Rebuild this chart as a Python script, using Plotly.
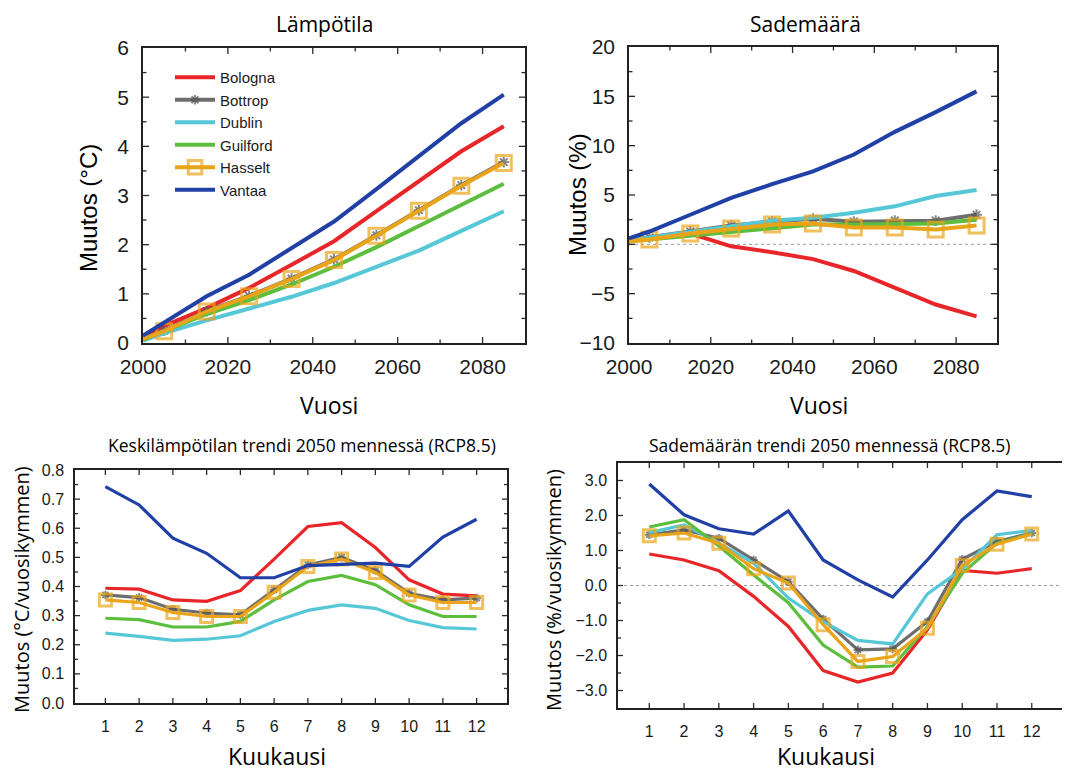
import plotly.graph_objects as go

# page body has an 8 px margin; the figure is sized so that it fills the 1070x773 window
OFF = 8
W, H = 1070 - OFF, 773 - OFF

# ---------------- data ----------------
cities = ["Bologna", "Bottrop", "Dublin", "Guilford", "Hasselt", "Vantaa"]
colors = {"Bologna": "#E8262A", "Bottrop": "#6E6E6E", "Dublin": "#55C7D7",
          "Guilford": "#5CBE3C", "Hasselt": "#E9A41A", "Vantaa": "#2140A6"}

years = [2000, 2005, 2015, 2025, 2035, 2045, 2055, 2065, 2075, 2085]
months = [1, 2, 3, 4, 5, 6, 7, 8, 9, 10, 11, 12]

# Temperature change (°C)
temp_bologna = [0.10, 0.35, 0.71, 1.12, 1.59, 2.07, 2.68, 3.29, 3.90, 4.41]
temp_bottrop = [0.08, 0.25, 0.65, 0.96, 1.31, 1.70, 2.19, 2.70, 3.21, 3.68]
temp_dublin = [0.05, 0.20, 0.46, 0.69, 0.94, 1.22, 1.55, 1.88, 2.28, 2.68]
temp_guilford = [0.07, 0.24, 0.59, 0.87, 1.19, 1.55, 1.95, 2.38, 2.82, 3.24]
temp_hasselt = [0.08, 0.24, 0.64, 0.95, 1.30, 1.69, 2.18, 2.69, 3.20, 3.66]
temp_vantaa = [0.15, 0.41, 0.95, 1.39, 1.93, 2.47, 3.13, 3.80, 4.47, 5.05]

# Precipitation change (%)
prec_bologna = [0.4, 0.7, 1.1, -0.2, -0.8, -1.5, -2.7, -4.4, -6.1, -7.3]
prec_bottrop = [0.4, 0.7, 1.3, 1.9, 2.3, 2.6, 2.3, 2.4, 2.4, 3.0]
prec_dublin = [0.4, 0.7, 1.3, 1.9, 2.4, 2.7, 3.2, 3.85, 4.9, 5.5]
prec_guilford = [0.3, 0.5, 0.9, 1.3, 1.7, 2.0, 2.0, 2.1, 2.1, 2.5]
prec_hasselt = [0.3, 0.5, 1.1, 1.6, 2.0, 2.1, 1.7, 1.7, 1.5, 1.9]
prec_vantaa = [0.6, 1.3, 3.0, 4.7, 6.1, 7.4, 9.1, 11.4, 13.4, 15.5]

# Monthly mean temperature trend (°C/decade)
mt_bologna = [0.394, 0.391, 0.354, 0.349, 0.386, 0.494, 0.606, 0.619, 0.534, 0.423, 0.374, 0.368]
mt_bottrop = [0.371, 0.362, 0.322, 0.309, 0.303, 0.389, 0.474, 0.500, 0.455, 0.377, 0.354, 0.360]
mt_dublin = [0.240, 0.229, 0.215, 0.219, 0.231, 0.280, 0.318, 0.337, 0.325, 0.283, 0.259, 0.254]
mt_guilford = [0.291, 0.286, 0.261, 0.261, 0.280, 0.354, 0.417, 0.438, 0.406, 0.337, 0.297, 0.297]
mt_hasselt = [0.354, 0.345, 0.311, 0.297, 0.297, 0.380, 0.469, 0.494, 0.448, 0.371, 0.345, 0.345]
mt_vantaa = [0.743, 0.680, 0.566, 0.514, 0.430, 0.430, 0.472, 0.477, 0.480, 0.469, 0.570, 0.631]

# Monthly precipitation trend (%/decade)
mp_bologna = [0.90, 0.73, 0.42, -0.31, -1.17, -2.43, -2.76, -2.50, -1.27, 0.43, 0.35, 0.48]
mp_bottrop = [1.45, 1.59, 1.35, 0.73, 0.11, -0.96, -1.84, -1.81, -1.03, 0.75, 1.26, 1.50]
mp_dublin = [1.51, 1.73, 1.21, 0.64, -0.36, -1.03, -1.57, -1.67, -0.24, 0.47, 1.45, 1.57]
mp_guilford = [1.67, 1.88, 1.13, 0.30, -0.49, -1.70, -2.33, -2.30, -1.17, 0.35, 1.21, 1.47]
mp_hasselt = [1.42, 1.50, 1.21, 0.48, 0.07, -1.12, -2.17, -2.03, -1.22, 0.57, 1.18, 1.47]
mp_vantaa = [2.90, 2.02, 1.62, 1.47, 2.13, 0.73, 0.16, -0.33, 0.73, 1.88, 2.70, 2.54]

# tick positions (major, minor) of each panel
year_ticks_major = [2020, 2040, 2060, 2080]
year_ticks_minor = [2010, 2030, 2050, 2070]
temp_ticks_major = [1, 2, 3, 4, 5]
temp_ticks_minor = [0.5, 1.5, 2.5, 3.5, 4.5, 5.5]
prec_ticks_major = [-5, 0, 5, 10, 15]
prec_ticks_minor = [-7.5, -2.5, 2.5, 7.5, 12.5, 17.5]
mtemp_ticks_major = [0.1, 0.2, 0.3, 0.4, 0.5, 0.6, 0.7]
mtemp_ticks_minor = [0.05, 0.15, 0.25, 0.35, 0.45, 0.55, 0.65, 0.75]
mprec_ticks_major = [-3, -2, -1, 0, 1, 2, 3]
mprec_ticks_minor = [-2.5, -1.5, -0.5, 0.5, 1.5, 2.5]

temp = dict(zip(cities, [temp_bologna, temp_bottrop, temp_dublin, temp_guilford, temp_hasselt, temp_vantaa]))
prec = dict(zip(cities, [prec_bologna, prec_bottrop, prec_dublin, prec_guilford, prec_hasselt, prec_vantaa]))
mtemp = dict(zip(cities, [mt_bologna, mt_bottrop, mt_dublin, mt_guilford, mt_hasselt, mt_vantaa]))
mprec = dict(zip(cities, [mp_bologna, mp_bottrop, mp_dublin, mp_guilford, mp_hasselt, mp_vantaa]))

fig = go.Figure()


def add_panel(x, data, xa, ya, lw, msize, legend, skip_first):
    for c in cities:
        y = data[c]
        mode = "lines"
        marker = None
        if c in ("Hasselt", "Bottrop"):
            mode = "lines+markers"
            if c == "Hasselt":
                marker = dict(symbol="square-open", color=colors[c],
                              size=[0 if (skip_first and i == 0) else msize for i in range(len(x))],
                              line=dict(width=3, color=colors[c]))
            else:
                marker = dict(symbol="asterisk-open", color="#555555",
                              size=[0 if (skip_first and i == 0) else msize * 0.6 for i in range(len(x))],
                              line=dict(width=2, color="#555555"))
        fig.add_trace(go.Scatter(
            x=x, y=y, mode=mode, name=c, marker=marker,
            line=dict(color=colors[c], width=lw),
            xaxis=xa, yaxis=ya, showlegend=legend,
        ))


add_panel(years, temp, "x", "y", 4, 15, True, True)
add_panel(years, prec, "x2", "y2", 4, 15, False, True)
add_panel(months, mtemp, "x3", "y3", 3.2, 12, False, False)
add_panel(months, mprec, "x4", "y4", 3.2, 12, False, False)

TICKF_BIG = dict(family="Liberation Sans, Arial", size=21, color="#1a1a1a")
TICKF_SMALL = dict(family="Liberation Sans, Arial", size=16, color="#1a1a1a")


def px_x(p):
    return (p - OFF) / W


def px_y(p):
    return 1 - (p - OFF) / H


def ax(domain, rng, dtick, tickfont, anchor, tickvals=None, fmt=None, standoff=None):
    d = dict(domain=domain, range=rng, showline=True, linecolor="#222", linewidth=1.5,
             mirror=True, ticks="", showgrid=False, zeroline=False, tickfont=tickfont,
             anchor=anchor, automargin=False)
    if standoff is not None:
        d["ticklabelstandoff"] = standoff
    if tickvals is not None:
        d["tickvals"] = tickvals
    else:
        d["dtick"] = dtick
        d["tick0"] = 0
    if fmt:
        d["tickformat"] = fmt
    return d


def fx(a, b):
    return [max(0.0, px_x(a)), min(1.0, px_x(b))]


def fy(top, bottom):
    return [px_y(bottom), px_y(top)]


fig.update_layout(
    width=W, height=H, autosize=False, margin=dict(l=0, r=0, t=0, b=0, pad=0, autoexpand=False),
    paper_bgcolor="white", plot_bgcolor="white",
    xaxis=ax(fx(143, 525), [2000, 2090], 20, TICKF_BIG, "y", standoff=4),
    yaxis=ax(fy(48, 343), [0, 6], 1, TICKF_BIG, "x", standoff=8),
    xaxis2=ax(fx(629, 997), [2000, 2090], 20, TICKF_BIG, "y2", standoff=4),
    yaxis2=ax(fy(47, 343), [-10, 20], 5, TICKF_BIG, "x2", standoff=8),
    xaxis3=ax(fx(75, 507), [0.1, 12.9], None, TICKF_SMALL, "y3", tickvals=months, standoff=8),
    yaxis3=ax(fy(470, 703), [0, 0.8], 0.1, TICKF_SMALL, "x3", fmt=".1f", standoff=6),
    xaxis4=ax(fx(618, 1070), [0.1, 13.1], None, TICKF_SMALL, "y4", tickvals=months, standoff=8),
    yaxis4=ax(fy(463, 708), [-3.5, 3.5], 1, TICKF_SMALL, "x4", fmt=".1f", standoff=6),
    legend=dict(x=px_x(170), y=px_y(61), xanchor="left", yanchor="top",
                bgcolor="rgba(0,0,0,0)", font=dict(family="Liberation Sans, Arial", size=15, color="#1a1a1a"),
                tracegroupgap=0, itemwidth=40, borderwidth=0),
    showlegend=True,
)

# zero reference lines
for xa, ya in (("x2", "y2"), ("x4", "y4")):
    fig.add_shape(type="line", xref=f"{xa} domain", x0=0, x1=1, yref=ya, y0=0, y1=0,
                  line=dict(color="#9a9a9a", width=1, dash="dot"), layer="below")

# inside, mirrored tick marks on all four sides of each panel
TICK_STYLE = dict(color="#2a2a2a", width=1.3)


def add_ticks(xa, ya, xmaj, xmin, ymaj, ymin, wpx, hpx, big=6, small=3.5):
    for vals, ln in ((xmaj, big), (xmin, small)):
        f = ln / hpx
        for v in vals:
            for y0, y1 in ((0, f), (1 - f, 1)):
                fig.add_shape(type="line", xref=xa, yref=f"{ya} domain", x0=v, x1=v, y0=y0, y1=y1,
                              line=TICK_STYLE, layer="above")
    for vals, ln in ((ymaj, big), (ymin, small)):
        f = ln / wpx
        for v in vals:
            for x0, x1 in ((0, f), (1 - f, 1)):
                fig.add_shape(type="line", xref=f"{xa} domain", yref=ya, x0=x0, x1=x1, y0=v, y1=v,
                              line=TICK_STYLE, layer="above")


add_ticks("x", "y", year_ticks_major, year_ticks_minor, temp_ticks_major, temp_ticks_minor, 382, 295)
add_ticks("x2", "y2", year_ticks_major, year_ticks_minor, prec_ticks_major, prec_ticks_minor, 368, 296)
add_ticks("x3", "y3", months, [], mtemp_ticks_major, mtemp_ticks_minor, 432, 233, big=5, small=3)
add_ticks("x4", "y4", months, [], mprec_ticks_major, mprec_ticks_minor, 452, 245, big=5, small=3)

TITLE_F = "Open Sans"


def ann(text, x, y, size, family=TITLE_F, angle=0, yanchor="middle"):
    fig.add_annotation(text=text, x=px_x(x), y=min(1.0, px_y(y)), xref="paper", yref="paper",
                       showarrow=False, xanchor="center", yanchor=yanchor, textangle=angle,
                       font=dict(family=family, size=size, color="#000"))


ann("Lämpötila", 324, 8, 21, yanchor="top")
ann("Sademäärä", 805, 8, 21, yanchor="top")
ann("Vuosi", 329, 405, 23)
ann("Vuosi", 819, 405, 23)
ann("Muutos (°C)", 89, 208, 24, family="Liberation Sans, Arial", angle=-90)
ann("Muutos (%)", 577, 195, 24, family="Liberation Sans, Arial", angle=-90)
ann("Keskilämpötilan trendi 2050 mennessä (RCP8.5)", 302, 445, 17.5)
ann("Sademäärän trendi 2050 mennessä (RCP8.5)", 829, 445, 17.5)
ann("Muutos (°C/vuosikymmen)", 21, 590, 20, angle=-90)
ann("Muutos (%/vuosikymmen)", 553, 590, 20, angle=-90)
ann("Kuukausi", 277, 756, 23)
ann("Kuukausi", 826, 756, 23)

fig.write_html("out.html")
